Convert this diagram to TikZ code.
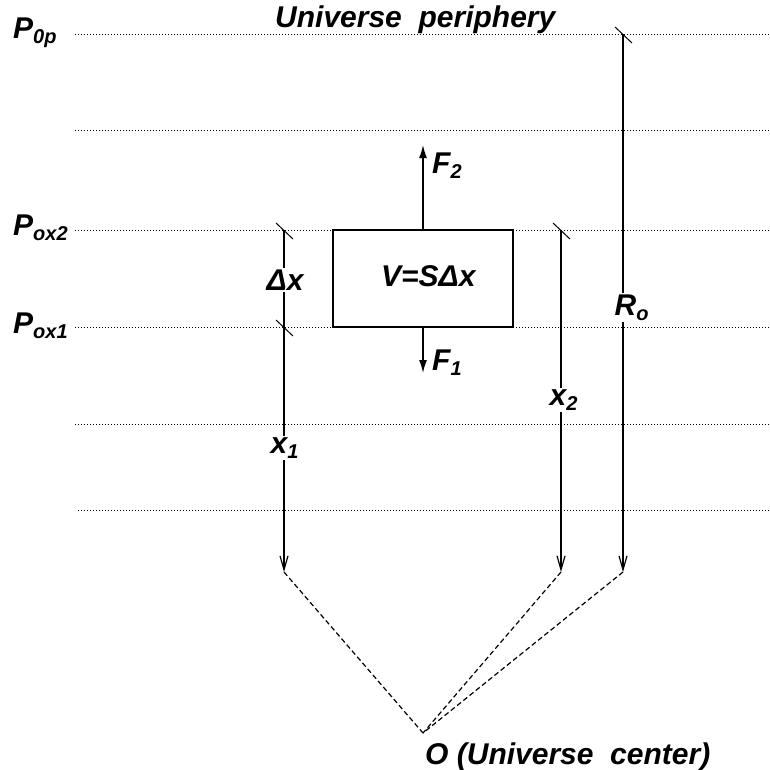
\documentclass[tikz,border=0pt]{standalone}
\usepackage{fontspec}
\setmainfont{Liberation Sans}
\usetikzlibrary{arrows.meta}
\newcommand\lblsub[2]{#1\raisebox{-5pt}{\fontsize{20}{20}\selectfont #2}}
\begin{document}
\begin{tikzpicture}[x=1pt,y=-1pt,
  font=\fontsize{30}{36}\selectfont\bfseries\itshape,
  dotline/.style={line width=1pt, dash pattern=on 1pt off 2pt},
  meas/.style={line width=1.2pt, -{Straight Barb[length=14pt,width=8pt,line width=1.2pt]}},
  tick/.style={line width=1pt},
  conn/.style={line width=1.2pt, dash pattern=on 5pt off 3pt},
  force/.style={line width=1.5pt, -{Latex[length=13pt,width=8pt]}},
  lbl/.style={anchor=base west, inner sep=0pt},
  gaplbl/.style={anchor=base west, inner sep=1.5pt, fill=white}]
\useasboundingbox (0,0) rectangle (770,769);
% dotted levels
\foreach \yy in {34,130,230,327,424} \draw[dotline] (75,\yy) -- (770,\yy);
\draw[dotline] (78,510) -- (770,510);
% level labels
\node[lbl] (p0p) at (13,38) {\lblsub{P}{0p}};
\node[lbl] (pox2) at (13,235) {\lblsub{P}{ox2}};
\node[lbl] (pox1) at (13,333) {\lblsub{P}{ox1}};
\node[lbl] (periph) at (275,27) {Universe\ \ periphery};
% box
\node[draw, line width=2.5pt, minimum width=180pt, minimum height=97pt, inner sep=0pt, fill=white] (box) at (423,278.5) {};
\node[lbl] (vol) at (381,286) {V=SΔx};
% forces
\coordinate (f2tip) at (423,145);
\coordinate (f1tip) at (423,373);
\draw[force] (box.north) -- (f2tip);
\draw[force] (box.south) -- (f1tip);
\node[lbl] (f2) at (432,173) {\lblsub{F}{2}};
\node[lbl] (f1) at (432,370) {\lblsub{F}{1}};
% measurement lines
\coordinate (x1t) at (284,230); \coordinate (x1b) at (284,572);
\coordinate (x2t) at (561,230); \coordinate (x2b) at (561,572);
\coordinate (rt) at (623,34);  \coordinate (rb) at (623,572);
\coordinate (O) at (423,733);
\draw[meas] (x1t) -- (x1b);
\draw[meas] (x2t) -- (x2b);
\draw[meas] (rt) -- (rb);
\draw[tick] (x1t) ++(-8,-7) -- ++(17,16);
\draw[tick] (284,327) ++(-8,-7) -- ++(17,16);
\draw[tick] (x2t) ++(-8,-7) -- ++(17,16);
\draw[tick] (rt) ++(-8,-7) -- ++(17,16);
% labels on lines
\node[gaplbl] (dx) at (265,290) {Δx};
\node[gaplbl] (x1) at (269,453) {\lblsub{x}{1}};
\node[gaplbl] (x2) at (548,405) {\lblsub{x}{2}};
\node[gaplbl] (ro) at (613,315) {\lblsub{R}{o}};
% dashed connectors to the centre
\draw[conn] (x1b) -- (O);
\draw[conn] (x2b) -- (O);
\draw[conn] (rb) -- (O);
\node[lbl] (ctr) at (425,764) {O (Universe\ \ center)};
\end{tikzpicture}
\end{document}
